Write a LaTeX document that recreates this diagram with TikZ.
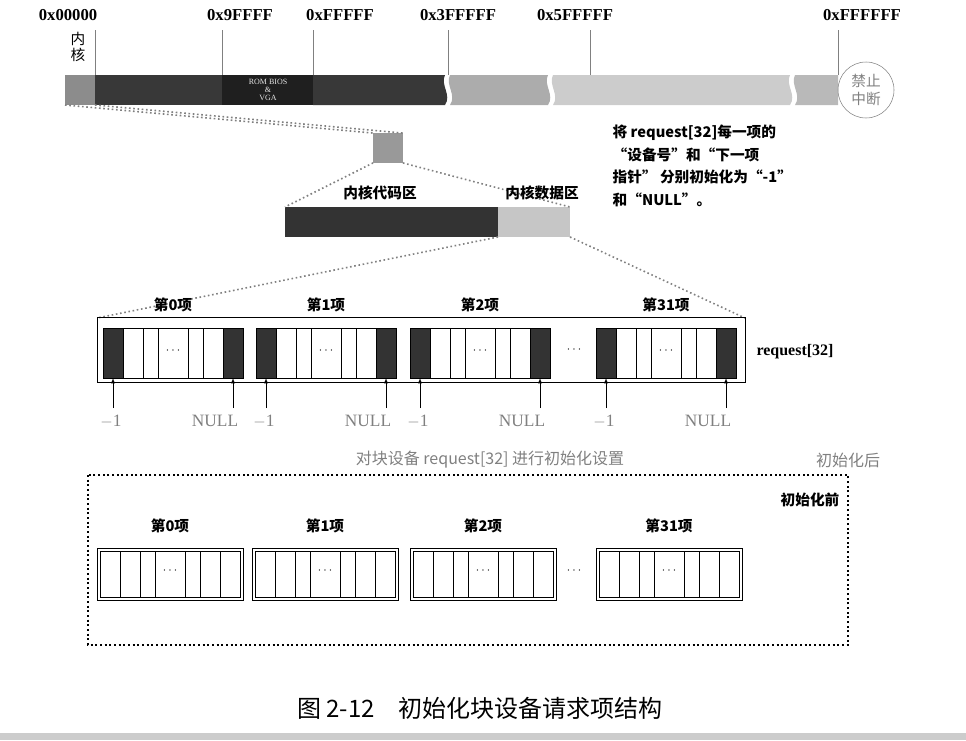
\documentclass[tikz,border=0pt]{standalone}
\usepackage{fontspec}
\setmainfont{Liberation Serif}
\newfontfamily\cjk{Noto Sans CJK SC}
\usetikzlibrary{patterns}
\begin{document}
\begin{tikzpicture}[x=0.75pt,y=-0.75pt,
  lab/.style={font=\bfseries\fontsize{12.5}{14}\selectfont},
  cj/.style={font=\cjk\bfseries\fontsize{11}{13}\selectfont},
  gr/.style={text=gray,font=\fontsize{13}{14}\selectfont},
  cellbox/.style={draw=black,line width=0.6pt},
  dots/.style={dotted,line width=1.2pt,gray}]
\useasboundingbox (0,0) rectangle (966,740);
% top labels
\foreach \x/\t/\n in {68/0x00000/a,240/0x9FFFF/b,340/0xFFFFF/c,458/0x3FFFFF/d,575/0x5FFFFF/e,862/0xFFFFFF/f}
  \node[lab] (l\n) at (\x,15) {\t};
\node[cj,font=\cjk\fontsize{11}{12}\selectfont,align=center] (kn) at (78,47) {内\\核};
\foreach \x in {95,222,313,448,590,838} \draw[gray] (\x,30) -- (\x,75);
% bar
\fill[gray!90] (65,75) rectangle (95,105);
\fill[black!78] (95,75) rectangle (222,105);
\fill[black!88] (222,75) rectangle (313,105);
\fill[black!78] (313,75) -- (445,75) .. controls (440,85) and (452,95) .. (445,105) -- (313,105) -- cycle;
\fill[gray!65] (450,75) -- (548,75) .. controls (543,85) and (555,95) .. (548,105) -- (450,105) .. controls (457,95) and (445,85) .. (450,75);
\fill[gray!40] (553,75) -- (790,75) .. controls (785,85) and (797,95) .. (790,105) -- (553,105) .. controls (560,95) and (548,85) .. (553,75);
\fill[gray!55] (795,75) -- (838,75) -- (838,105) -- (795,105) .. controls (802,95) and (790,85) .. (795,75);
\node[text=white!80!gray,font=\fontsize{6}{6}\selectfont,align=center] (rom) at (268,90) {ROM BIOS\\\&\\VGA};
\node[draw=gray,circle,minimum size=42pt,inner sep=0pt,align=center,font=\cjk\fontsize{11}{13}\selectfont,text=gray] (stop) at (866,90) {禁止\\中断};
% small square
\node[fill=gray!80,minimum size=22pt,inner sep=0pt] (sq) at (388,148) {};
\draw[dots] (65,105) -- (sq.north west);
\draw[dots] (95,105) -- (sq.north east);
% second bar
\fill[black!80] (285,207) rectangle (498,237);
\fill[gray!45] (498,207) rectangle (570,237);
\coordinate (b2l) at (285,207); \coordinate (b2r) at (570,207);
\draw[dots] (sq.south west) -- (b2l);
\draw[dots] (sq.south east) -- (b2r);
\node[cj] (code) at (380,193) {内核代码区};
\node[cj] (data) at (542,193) {内核数据区};
\node[cj,anchor=north west,align=left,font=\cjk\bfseries\fontsize{11}{17}\selectfont] (note) at (608,120)
 {将 request[32]每一项的\\“设备号”和“下一项\\指针” 分别初始化为“-1”\\和“NULL”。};
% request
\coordinate (d1) at (498,237); \coordinate (d2) at (570,237);
\draw[dots] (d1) -- (97,318);
\draw[dots] (d2) -- (745,318);
\node[draw,minimum width=486pt,minimum height=49pt,inner sep=0pt] (req) at (421,350) {};
\node[lab,font=\bfseries\fontsize{12}{14}\selectfont] (reqlab) at (795,352) {request[32]};
\foreach \x/\t [count=\i] in {103/第0项,256/第1项,410/第2项,596/第31项}{
  \begin{scope}[shift={(\x,328)}]
   \fill[black!80] (0,0) rectangle (20,50);
   \fill[black!80] (120,0) rectangle (140,50);
   \draw (0,0) rectangle (140,50);
   \foreach \c in {20,40,55,85,100,120} \draw (\c,0) -- (\c,50);
   \node[font=\small] at (70,23) {$\cdots$};
  \end{scope}
  \node[cj] (t\i) at (\x+70,305) {\t};
  \node[gr] (m\i) at (\x+8,421) {$-$1};
  \node[gr] (n\i) at (\x+112,421) {NULL};
  \draw[-latex] (\x+10,408) -- (\x+10,378);
  \draw[-latex] (\x+130,408) -- (\x+130,378);
}
\node[font=\small] (gap1) at (574,350) {$\cdots$};
\node[cj,text=gray,font=\cjk\fontsize{12}{14}\selectfont] (cap1) at (490,460) {对块设备 request[32] 进行初始化设置};
\node[cj,text=gray,font=\cjk\fontsize{12}{14}\selectfont] (after) at (848,460) {初始化后};
% before
\draw[dotted,line width=1.5pt] (88,475) rectangle (848,645);
\node[cj] (before) at (810,500) {初始化前};
\foreach \x/\t [count=\i] in {97/第0项,252/第1项,410/第2项,596/第31项}{
  \begin{scope}[shift={(\x,548)}]
   \draw (0,0) rectangle (146,52);
   \draw (3,3) rectangle (143,49);
   \foreach \c in {23,43,58,88,103,123} \draw (\c,3) -- (\c,49);
   \node[font=\small] at (73,23) {$\cdots$};
  \end{scope}
  \node[cj] (u\i) at (\x+73,526) {\t};
}
\node[font=\small] (gap2) at (574,571) {$\cdots$};
\node[font=\cjk\fontsize{18}{20}\selectfont] (title) at (480,708) {图 2-12\quad 初始化块设备请求项结构};
\fill[gray!40] (0,733) rectangle (966,740);
\end{tikzpicture}
\end{document}
